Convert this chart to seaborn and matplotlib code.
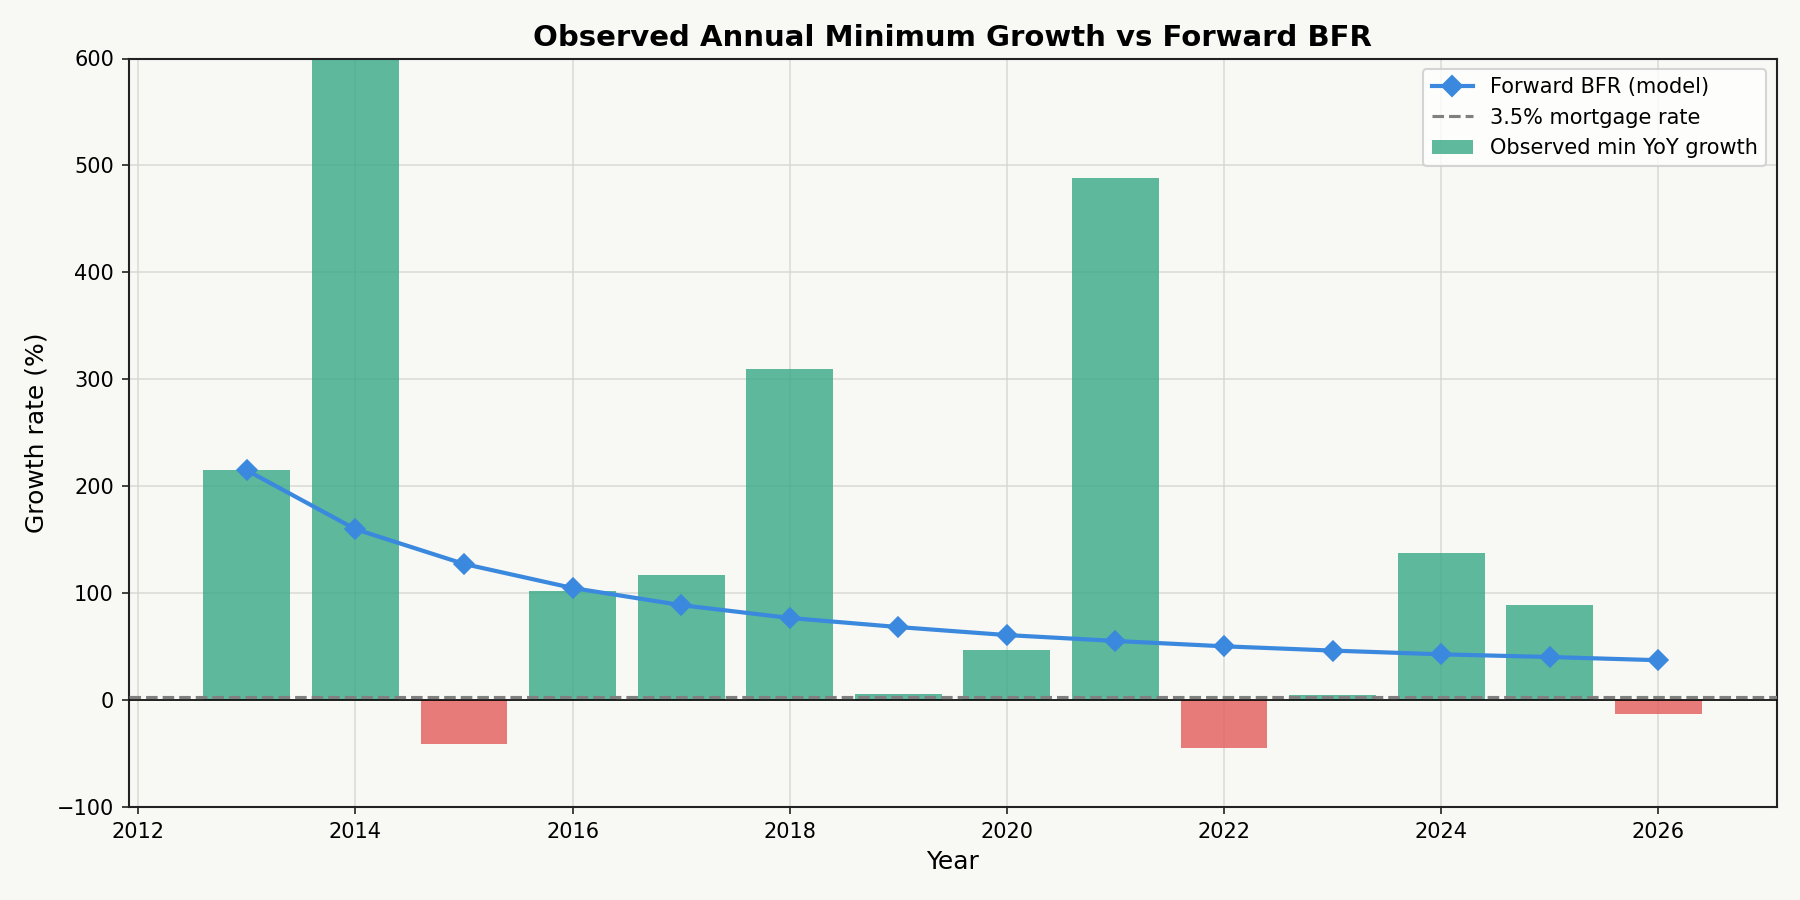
import matplotlib
matplotlib.use("Agg")
import matplotlib.pyplot as plt
import seaborn as sns
import pandas as pd
from matplotlib.lines import Line2D
from matplotlib.patches import Patch

years = [2013, 2014, 2015, 2016, 2017, 2018, 2019, 2020, 2021, 2022, 2023, 2024, 2025, 2026]
observed_min_growth = [215, 660, -41, 102, 117, 310, 6, 47, 488, -45, 5, 138, 89, -13]
forward_bfr = [215, 160, 127.5, 105, 89, 77, 68.5, 61, 55.5, 50.5, 46.5, 43, 40.5, 37.5]
mortgage_rate = 3.5

BG = "#f8f8f4"
GREEN = "#36a886"
RED = "#e35c5c"
BLUE = "#3a89de"

plt.rcParams['font.family'] = ['DejaVu Sans']

df = pd.DataFrame({"year": years, "obs": observed_min_growth, "bfr": forward_bfr})
df["sign"] = ["pos" if v >= 0 else "neg" for v in df["obs"]]

fig, ax = plt.subplots(figsize=(12, 6), dpi=150)
fig.patch.set_facecolor(BG)
ax.set_facecolor(BG)

sns.barplot(data=df, x="year", y="obs", hue="sign", palette={"pos": GREEN, "neg": RED},
            native_scale=True, dodge=False, legend=False, alpha=0.8, width=0.8,
            saturation=1, ax=ax, zorder=2)
ax.axhline(0, color="black", linewidth=0.8, zorder=3)
ax.axhline(mortgage_rate, color="grey", linestyle="--", linewidth=1.5, zorder=3)
sns.lineplot(data=df, x="year", y="bfr", marker="D", markersize=7, color=BLUE,
             linewidth=2, markeredgecolor=BLUE, ax=ax, zorder=4)

ax.set_ylim(-100, 600)
ax.set_xlim(2011.91, 2027.09)
ax.set_xticks([2012, 2014, 2016, 2018, 2020, 2022, 2024, 2026])
ax.grid(True, color="#d4d4d0", alpha=0.8, linewidth=0.8)
ax.set_axisbelow(True)
for s in ax.spines.values():
    s.set_color("#222222")
    s.set_linewidth(1.0)
ax.tick_params(colors="#222222", labelsize=10, labelcolor="black")

ax.set_title("Observed Annual Minimum Growth vs Forward BFR", fontsize=14, fontweight="bold")
ax.set_xlabel("Year", fontsize=12)
ax.set_ylabel("Growth rate (%)", fontsize=12)

handles = [
    Line2D([0], [0], color=BLUE, marker="D", markersize=7, linewidth=2),
    Line2D([0], [0], color="grey", linestyle="--", linewidth=1.5),
    Patch(facecolor=GREEN, alpha=0.8),
]
labels = ["Forward BFR (model)", "3.5% mortgage rate", "Observed min YoY growth"]
ax.legend(handles, labels, loc="upper right", fontsize=10, facecolor="white", framealpha=0.8)

fig.subplots_adjust(left=0.0714, right=0.987, top=0.935, bottom=0.103)
fig.savefig("out.png", dpi=150, facecolor=BG)
